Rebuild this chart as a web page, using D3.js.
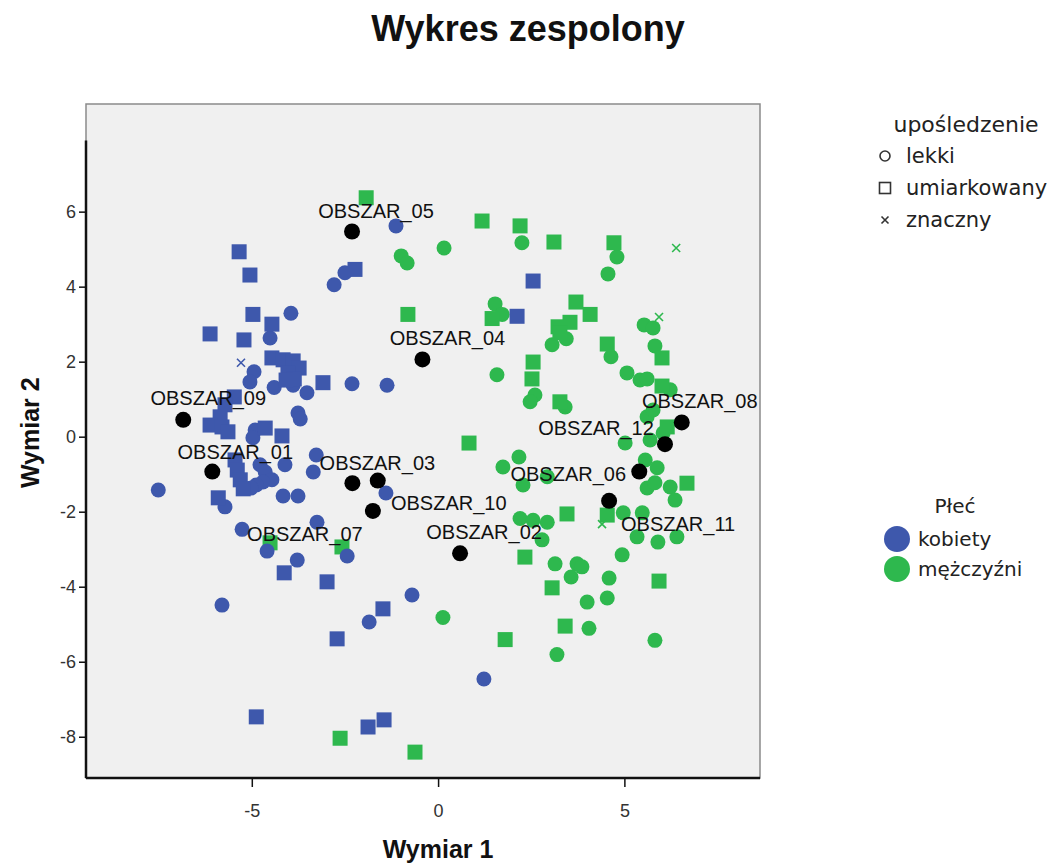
<!DOCTYPE html>
<html>
<head>
<meta charset="utf-8">
<script src="https://cdn.jsdelivr.net/npm/d3@7"></script>
<style>
  body { margin: 0; background: #fff; }
  svg { display: block; font-family: "Liberation Sans", Arial, sans-serif; }
</style>
</head>
<body>
<div class="wrapper"></div>
<script>
// values (Wymiar 1, Wymiar 2)
var kobietyLekki = [
  [-1.13, 5.62], [-2.50, 4.37], [-2.79, 4.05], [-3.95, 3.29], [-4.51, 2.63],
  [-4.94, 1.73], [-5.05, 1.46], [-4.40, 1.31], [-3.89, 1.37], [-3.52, 1.17],
  [-2.31, 1.41], [-1.37, 1.37], [-3.76, 0.63], [-3.70, 0.47], [-4.91, 0.18],
  [-4.97, -0.03], [-3.27, -0.49], [-4.11, -0.75], [-3.35, -0.94], [-4.78, -0.75],
  [-4.64, -0.94], [-4.46, -1.15], [-4.70, -1.21], [-4.88, -1.29], [-5.02, -1.37],
  [-7.51, -1.42], [-4.16, -1.58], [-3.76, -1.58], [-1.40, -1.50], [-5.26, -2.47],
  [-3.25, -2.28], [-4.59, -3.05], [-2.44, -3.18], [-3.78, -3.29], [-5.80, -4.49],
  [-0.70, -4.22], [-1.85, -4.94], [1.23, -6.46], [-5.72, -1.87]
];
var kobietyUmiarkowany = [
  [-5.34, 4.93], [-5.05, 4.31], [-2.23, 4.46], [-4.97, 3.26], [-4.46, 3.00],
  [-6.12, 2.74], [-5.21, 2.58], [-4.46, 2.10], [-4.16, 2.05], [-3.89, 2.02],
  [-3.73, 1.83], [-4.03, 1.70], [-3.86, 1.54], [-4.08, 1.51], [-3.09, 1.44],
  [-5.47, 1.06], [-5.72, 0.85], [-5.85, 0.53], [-6.12, 0.31], [-5.80, 0.26],
  [-5.64, 0.13], [-4.64, 0.23], [-4.19, 0.02], [-5.45, -0.62], [-5.39, -0.89],
  [-5.31, -1.15], [-5.23, -1.39], [-5.90, -1.63], [-4.13, -3.63], [-2.98, -3.87],
  [-1.48, -4.59], [-2.71, -5.39], [-4.88, -7.47], [-1.45, -7.55], [-1.88, -7.74],
  [2.55, 4.15], [2.12, 3.21]
];
var kobietyZnaczny = [[-5.29, 1.97]];

var mezczyzniLekki = [
  [0.16, 5.03], [-0.99, 4.82], [-0.83, 4.63], [2.25, 5.17], [4.80, 4.79],
  [4.56, 4.34], [1.53, 3.54], [1.72, 3.26], [5.53, 2.98], [5.77, 2.90],
  [3.44, 2.61], [3.06, 2.45], [4.64, 2.13], [5.82, 2.42], [1.58, 1.65],
  [2.60, 1.11], [2.47, 0.93], [3.41, 0.79], [5.07, 1.70], [5.42, 1.51],
  [5.61, 1.54], [6.23, 1.25], [5.61, 0.53], [5.77, 0.71], [5.69, -0.09],
  [5.02, -0.17], [6.04, 0.10], [2.17, -0.54], [1.74, -0.81], [2.28, -1.29],
  [2.93, -1.07], [5.56, -0.62], [5.88, -0.83], [5.61, -1.37], [5.82, -1.23],
  [6.23, -1.34], [6.36, -1.69], [4.97, -2.03], [5.48, -2.03], [2.20, -2.18],
  [2.55, -2.23], [2.93, -2.28], [2.79, -2.75], [5.34, -2.67], [5.90, -2.81],
  [6.41, -2.67], [4.94, -3.15], [3.14, -3.39], [3.73, -3.39], [3.86, -3.47],
  [3.57, -3.74], [4.59, -3.77], [4.00, -4.41], [4.54, -4.30], [0.13, -4.82],
  [4.05, -5.11], [5.82, -5.43], [3.19, -5.81]
];
var mezczyzniUmiarkowany = [
  [-1.93, 6.37], [-0.81, 3.26], [1.18, 5.75], [2.20, 5.62], [3.11, 5.19],
  [4.72, 5.17], [3.70, 3.59], [4.08, 3.26], [3.54, 3.05], [3.22, 2.93],
  [3.27, 2.77], [4.54, 2.47], [1.45, 3.15], [6.01, 2.10], [2.55, 1.99],
  [2.52, 1.54], [3.27, 0.93], [6.01, 1.35], [6.15, 0.26], [0.83, -0.17],
  [6.68, -1.24], [3.46, -2.06], [4.54, -2.09], [2.33, -3.21], [3.06, -4.03],
  [5.93, -3.85], [3.41, -5.05], [1.80, -5.41], [-4.51, -2.83], [-2.58, -2.94],
  [-2.63, -8.04], [-0.62, -8.41]
];
var mezczyzniZnaczny = [[6.39, 5.03], [5.93, 3.19], [4.40, -2.33]];

var obszarNames = [
  "OBSZAR_01", "OBSZAR_02", "OBSZAR_03", "OBSZAR_04", "OBSZAR_05", "OBSZAR_06",
  "OBSZAR_07", "OBSZAR_08", "OBSZAR_09", "OBSZAR_10", "OBSZAR_11", "OBSZAR_12"
];
var obszarPoints = [
  [-6.06, -0.93], [0.59, -3.11], [-2.30, -1.24], [-0.42, 2.06], [-2.31, 5.47], [5.40, -0.93],
  [-1.75, -1.98], [6.54, 0.38], [-6.84, 0.45], [-1.62, -1.17], [4.59, -1.71], [6.09, -0.20]
];

var xTicks = [-5, 0, 5];
var yTicks = [-8, -6, -4, -2, 0, 2, 4, 6];
var plecLabels = ["kobiety", "mężczyźni"];
var plecColors = ["#3e58ac", "#2eb84e"];
var uposledzenieLabels = ["lekki", "umiarkowany", "znaczny"];

// label placement around the black points, px (layout only)
var labelOffsets = {
  OBSZAR_01: [23, -20], OBSZAR_02: [24, -21], OBSZAR_03: [25, -20], OBSZAR_04: [25, -21],
  OBSZAR_05: [24, -21], OBSZAR_06: [-71, 2], OBSZAR_07: [-68, 23], OBSZAR_08: [18, -21],
  OBSZAR_09: [25, -22], OBSZAR_10: [71, 22], OBSZAR_11: [69, 23], OBSZAR_12: [-69, -16]
};

var width = 1058, height = 864;
var plot = { left: 86, right: 760, top: 104, bottom: 778 };

var svg = d3.select(".wrapper").append("svg")
  .attr("width", width).attr("height", height);

svg.append("rect").attr("width", width).attr("height", height).attr("fill", "#fff");

var x = d3.scaleLinear().domain([-9.45, 8.64]).range([plot.left, plot.right]);
var y = d3.scaleLinear().domain([-9.10, 8.87]).range([plot.bottom, plot.top]);

// title
svg.append("text")
  .attr("x", 528).attr("y", 41)
  .attr("text-anchor", "middle")
  .style("font-size", "36px").style("font-weight", "bold").style("fill", "#111")
  .text("Wykres zespolony");

// plot background + frame
svg.append("rect")
  .attr("x", plot.left).attr("y", plot.top)
  .attr("width", plot.right - plot.left).attr("height", plot.bottom - plot.top)
  .attr("fill", "#f0f0f0").attr("stroke", "#8a8a8a").attr("stroke-width", 1.5);

// axes
var xAxis = d3.axisBottom(x).tickValues(xTicks).tickSize(9).tickPadding(17)
  .tickFormat(d => String(d));
var yAxis = d3.axisLeft(y).tickValues(yTicks).tickSize(7).tickPadding(3)
  .tickFormat(d => String(d));

var gx = svg.append("g").attr("transform", `translate(0,${plot.bottom})`).call(xAxis);
var gy = svg.append("g").attr("transform", `translate(${plot.left},0)`).call(yAxis);
[gx, gy].forEach(g => {
  g.select(".domain").remove();
  g.selectAll(".tick line").attr("stroke", "#111").attr("stroke-width", 1.5);
  g.selectAll(".tick text")
    .style("font-size", "18px").style("fill", "#333")
    .style("font-family", "'Liberation Sans', Arial, sans-serif");
});

// solid axis lines (the left one stops below the top of the frame)
svg.append("line")
  .attr("x1", plot.left).attr("x2", plot.right)
  .attr("y1", plot.bottom).attr("y2", plot.bottom)
  .attr("stroke", "#111").attr("stroke-width", 2.5);
svg.append("line")
  .attr("x1", plot.left).attr("x2", plot.left)
  .attr("y1", y(7.9)).attr("y2", plot.bottom)
  .attr("stroke", "#111").attr("stroke-width", 2.5);

// axis titles
svg.append("text")
  .attr("x", x(0)).attr("y", 858)
  .attr("text-anchor", "middle")
  .style("font-size", "25px").style("font-weight", "bold").style("fill", "#111")
  .text("Wymiar 1");
svg.append("text")
  .attr("transform", `translate(39,${y(0) - 4}) rotate(-90)`)
  .attr("text-anchor", "middle")
  .style("font-size", "25px").style("font-weight", "bold").style("fill", "#111")
  .text("Wymiar 2");

// points
var marks = svg.append("g").attr("class", "marks");

function drawSeries(data, shape, color) {
  var sel = marks.append("g").selectAll("g").data(data).enter().append("g")
    .attr("transform", d => `translate(${x(d[0])},${y(d[1])})`);
  if (shape === "lekki") {
    sel.append("circle").attr("r", 7.5).attr("fill", color);
  } else if (shape === "umiarkowany") {
    sel.append("rect").attr("x", -7.5).attr("y", -7.5)
      .attr("width", 15).attr("height", 15).attr("fill", color);
  } else {
    sel.append("path").attr("d", "M-4,-4L4,4M-4,4L4,-4")
      .attr("stroke", color).attr("stroke-width", 1.6).attr("fill", "none");
  }
}

drawSeries(mezczyzniLekki, "lekki", plecColors[1]);
drawSeries(mezczyzniUmiarkowany, "umiarkowany", plecColors[1]);
drawSeries(mezczyzniZnaczny, "znaczny", plecColors[1]);
drawSeries(kobietyLekki, "lekki", plecColors[0]);
drawSeries(kobietyUmiarkowany, "umiarkowany", plecColors[0]);
drawSeries(kobietyZnaczny, "znaczny", plecColors[0]);

// OBSZAR points and labels
var obszary = obszarNames.map((name, i) => ({ name: name, x: obszarPoints[i][0], y: obszarPoints[i][1] }));

marks.append("g").selectAll("circle").data(obszary).enter().append("circle")
  .attr("cx", d => x(d.x)).attr("cy", d => y(d.y))
  .attr("r", 8).attr("fill", "#000");

marks.append("g").selectAll("text").data(obszary).enter().append("text")
  .attr("x", d => x(d.x) + labelOffsets[d.name][0])
  .attr("y", d => y(d.y) + labelOffsets[d.name][1])
  .attr("text-anchor", "middle").attr("dominant-baseline", "central")
  .style("font-size", "20px").style("fill", "#111")
  .text(d => d.name);

// legend: upośledzenie
var leg1 = svg.append("g").style("font-family", "'DejaVu Sans', sans-serif").style("fill", "#222");
leg1.append("text").attr("x", 966).attr("y", 124)
  .attr("text-anchor", "middle").attr("dominant-baseline", "central")
  .style("font-size", "22px").text("upośledzenie");

uposledzenieLabels.forEach((label, i) => {
  var cy = 156 + i * 32;
  var item = leg1.append("g").attr("transform", `translate(885,${cy})`);
  if (i === 0) {
    item.append("circle").attr("r", 5).attr("fill", "none").attr("stroke", "#333").attr("stroke-width", 1.6);
  } else if (i === 1) {
    item.append("rect").attr("x", -5.5).attr("y", -5.5).attr("width", 11).attr("height", 11)
      .attr("fill", "none").attr("stroke", "#333").attr("stroke-width", 1.6);
  } else {
    item.append("path").attr("d", "M-3.5,-3.5L3.5,3.5M-3.5,3.5L3.5,-3.5")
      .attr("stroke", "#333").attr("stroke-width", 1.6);
  }
  item.append("text").attr("x", 21).attr("y", 0)
    .attr("dominant-baseline", "central")
    .style("font-size", "21px").text(label);
});

// legend: Płeć
var leg2 = svg.append("g").style("font-family", "'DejaVu Sans', sans-serif").style("fill", "#222");
leg2.append("text").attr("x", 955).attr("y", 506)
  .attr("text-anchor", "middle").attr("dominant-baseline", "central")
  .style("font-size", "20px").text("Płeć");

plecLabels.forEach((label, i) => {
  var cy = 539 + i * 30;
  leg2.append("circle").attr("cx", 897).attr("cy", cy).attr("r", 13).attr("fill", plecColors[i]);
  leg2.append("text").attr("x", 918).attr("y", cy)
    .attr("dominant-baseline", "central")
    .style("font-size", "20px").text(label);
});
</script>
</body>
</html>
